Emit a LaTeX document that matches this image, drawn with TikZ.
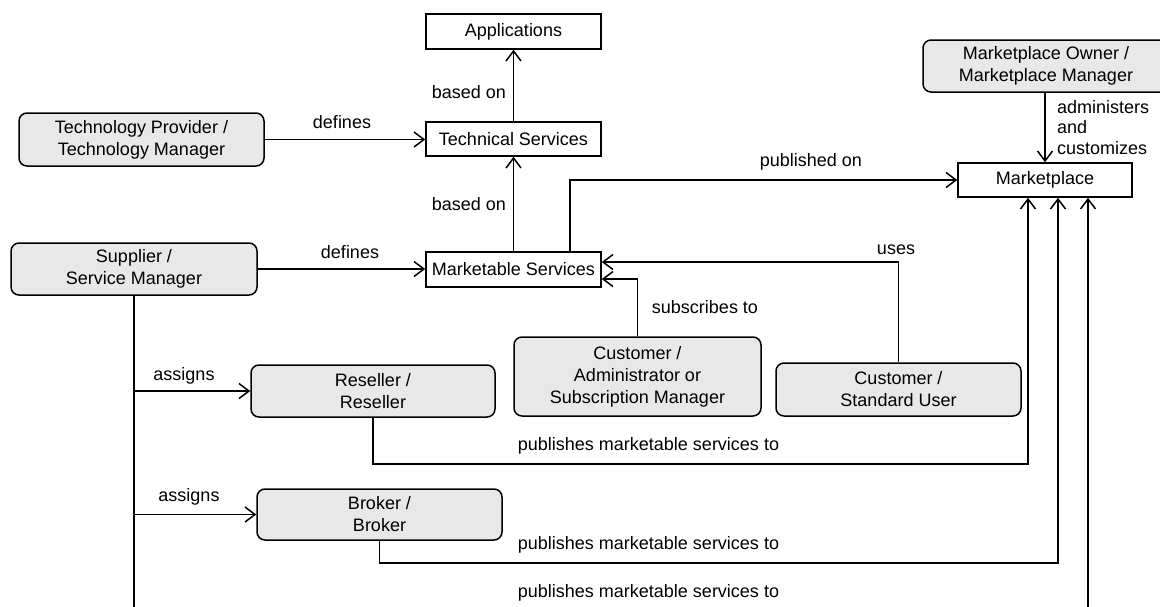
\documentclass[tikz,border=0pt]{standalone}
\usepackage{fontspec}
\setmainfont{Liberation Sans}
\usetikzlibrary{arrows.meta,calc}
\definecolor{rolegray}{RGB}{232,232,232}
\begin{document}
\begin{tikzpicture}[x=1pt,y=-1pt,
  every node/.style={font=\fontsize{18}{22}\selectfont},
  boxplain/.style={draw, line width=1.5pt, inner sep=0pt, align=center},
  role/.style={draw, line width=1.5pt, fill=rolegray, rounded corners=8pt, inner sep=0pt, align=center},
  lab/.style={inner sep=0pt},
  arr/.style={line width=1.5pt, -{Straight Barb[length=10pt,width=15pt]}}]
\useasboundingbox (0,0) rectangle (1160,606);
\clip (0,0) rectangle (1160,606);

% boxes
\node[boxplain, minimum width=175pt, minimum height=35pt] (app) at (513.5,31.5) {Applications};
\node[boxplain, minimum width=175pt, minimum height=34pt] (tech) at (513.5,139) {Technical Services};
\node[boxplain, minimum width=175pt, minimum height=35pt] (mkt) at (513.5,269.5) {Marketable Services};
\node[boxplain, minimum width=174pt, minimum height=34pt] (mp) at (1045,180) {Marketplace};
\node[role, minimum width=245pt, minimum height=53pt] (tp) at (141.5,139.5) {Technology Provider /\\Technology Manager};
\node[role, minimum width=246pt, minimum height=52pt] (sup) at (134,269) {Supplier /\\Service Manager};
\node[role, minimum width=246pt, minimum height=52pt] (own) at (1046,66) {Marketplace Owner /\\Marketplace Manager};
\node[role, minimum width=247pt, minimum height=79pt] (adm) at (637.5,376.5) {Customer /\\Administrator or\\Subscription Manager};
\node[role, minimum width=245pt, minimum height=53pt] (std) at (898.5,389.5) {Customer /\\Standard User};
\node[role, minimum width=244pt, minimum height=52pt] (res) at (373,391) {Reseller /\\Reseller};
\node[role, minimum width=245pt, minimum height=51pt] (bro) at (379.5,514.5) {Broker /\\Broker};

% connectors
\draw[arr] (tech.north) -- (app.south);
\draw[arr] (mkt.north) -- (tech.south);
\draw[arr] (tp.east) -- (tp.east -| tech.west);
\draw[arr] (sup.east) -- (sup.east -| mkt.west);
\draw[arr] ([xshift=56.5pt]mkt.north) |- (mp.west);
\draw[arr] (own.south -| mp.north) -- (mp.north);
\draw[arr] (std.north) |- ([yshift=7.5pt]mkt.east);
\draw[arr] (adm.north) |- ([yshift=-9.5pt]mkt.east);
\draw[arr] (res.south) -- ++(0,46) -| ([xshift=-17pt]mp.south);
\draw[arr] (bro.south) -- ++(0,22) -| ([xshift=13pt]mp.south);
\draw[arr] (sup.south) -- ++(0,315) -| ([xshift=43pt]mp.south);
\draw[arr] (sup.south |- res.west) -- (res.west);
\draw[arr] (sup.south |- bro.west) -- (bro.west);

% labels
\node[lab] (l1) at (469,92) {based on};
\node[lab] (l2) at (469,204) {based on};
\node[lab] (l3) at (342,122) {defines};
\node[lab] (l4) at (350,252) {defines};
\node[lab] (l5) at (811,162) {published on};
\node[lab, align=left, anchor=west, font=\fontsize{18}{20.5}\selectfont] (l6) at (1057,127.5) {administers\\and\\customizes};
\node[lab] (l7) at (896,250) {uses};
\node[lab] (l8) at (705,307) {subscribes to};
\node[lab] (l9) at (184,376) {assigns};
\node[lab] (l10) at (189,497) {assigns};
\node[lab] (l11) at (648.5,446) {publishes marketable services to};
\node[lab] (l12) at (648.5,545) {publishes marketable services to};
\node[lab] (l13) at (648.5,593) {publishes marketable services to};
\end{tikzpicture}
\end{document}
